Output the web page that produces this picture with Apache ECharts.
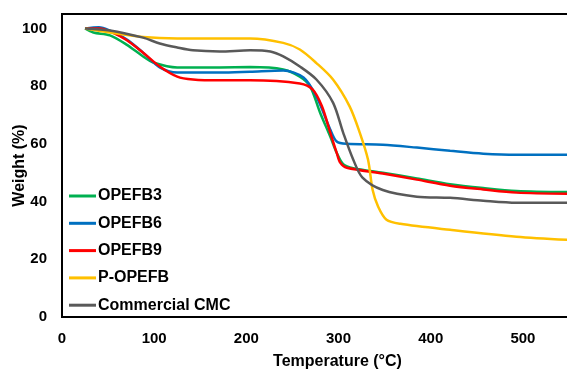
<!DOCTYPE html>
<html>
<head>
<meta charset="utf-8">
<script src="https://cdn.jsdelivr.net/npm/echarts@6/dist/echarts.min.js"></script>
<style>
  html, body { margin: 0; padding: 0; background: #fff; }
  #chart { width: 567px; height: 369px; }
</style>
</head>
<body>
<div id="chart"></div>
<script>
// temperatures (°C) and weights (%)
const opefb3T = [25, 34, 52, 70, 88, 99, 125, 171, 204, 240, 258, 269, 280, 291, 298, 305, 316, 348, 385, 421, 457, 493, 550];
const opefb3W = [100, 98.6, 97.6, 94.4, 90.3, 88.2, 86.5, 86.5, 86.6, 85.8, 83.3, 80, 70.8, 62.5, 56.9, 53, 51.6, 50, 48, 46, 44.7, 43.7, 43.3];

const opefb6T = [25, 40, 52, 70, 88, 106, 125, 171, 204, 240, 262, 276, 291, 298, 309, 348, 385, 421, 457, 493, 550];
const opefb6W = [100, 100.4, 99.2, 96.2, 91.6, 86.5, 84.7, 84.7, 85, 85.4, 83, 76.4, 65, 60.8, 60, 59.7, 58.7, 57.6, 56.6, 56.2, 56.2];

const opefb9T = [25, 41, 52, 70, 88, 106, 125, 142, 171, 204, 258, 272, 282, 291, 298, 302, 309, 348, 385, 421, 457, 493, 550];
const opefb9W = [100, 100, 99, 96, 91.6, 86.8, 83.3, 82.3, 82, 82, 80.9, 78.8, 73, 63.9, 56.9, 53.4, 51.7, 49.7, 47.6, 45.5, 44.2, 43.1, 42.7];

const pOpefbT = [25, 52, 88, 125, 171, 204, 240, 258, 276, 294, 312, 323, 332, 337, 343, 352, 367, 421, 493, 550];
const pOpefbW = [100, 98.6, 97, 96.5, 96.5, 96.5, 95, 92.7, 88, 82.3, 73, 63.9, 54.5, 44, 38.2, 33.7, 32.3, 30.2, 27.8, 26.7];

const cmcT = [25, 52, 88, 106, 125, 142, 171, 204, 226, 240, 258, 276, 294, 305, 316, 326, 348, 385, 421, 457, 493, 550];
const cmcW = [100, 99.3, 96.8, 94.8, 93.4, 92.4, 92, 92.4, 92, 90.3, 86.8, 82.3, 74.3, 63.9, 54.5, 48.3, 44, 41.7, 41.3, 40.3, 39.6, 39.6];

const seriesNames = ["OPEFB3", "OPEFB6", "OPEFB9", "P-OPEFB", "Commercial CMC"];
const seriesColors = ["#00B050", "#0070C0", "#FF0000", "#FFC000", "#595959"];
const seriesTemps = [opefb3T, opefb6T, opefb9T, pOpefbT, cmcT];
const seriesWeights = [opefb3W, opefb6W, opefb9W, pOpefbW, cmcW];

const font = "'Liberation Sans', Arial, sans-serif";
const chart = echarts.init(document.getElementById("chart"));

chart.setOption({
  animation: false,
  grid: {
    left: 62, right: -2, top: 14, bottom: 52,
    outerBoundsMode: "none",
    containLabel: false,
    show: true, borderColor: "#000", borderWidth: 2
  },
  legend: {
    orient: "vertical",
    left: 69, top: 188,
    padding: 0,
    itemWidth: 27, itemHeight: 3, itemGap: 11.3,
    icon: "rect",
    data: seriesNames,
    textStyle: {
      fontFamily: font, fontWeight: "bold", fontSize: 16,
      color: "#000", lineHeight: 16, padding: [0, 0, 0, -3]
    }
  },
  xAxis: {
    type: "value",
    min: 0, max: 550, interval: 100,
    name: "Temperature (°C)",
    nameLocation: "middle",
    nameGap: 37,
    nameTextStyle: {
      fontFamily: font, fontWeight: "bold", fontSize: 16, color: "#000",
      padding: [0, 0, 0, 44]
    },
    axisLine: { lineStyle: { color: "#000", width: 2 } },
    axisTick: { show: false },
    splitLine: { show: false },
    axisLabel: {
      margin: 14,
      fontFamily: font, fontWeight: "bold", fontSize: 15, color: "#000",
      formatter: (v) => (v % 100 === 0 ? String(v) : "")
    }
  },
  yAxis: {
    type: "value",
    min: 0, max: 105, interval: 20,
    name: "Weight (%)",
    nameLocation: "middle",
    nameGap: 34,
    nameMoveOverlap: false,
    nameTextStyle: {
      fontFamily: font, fontWeight: "bold", fontSize: 16, color: "#000"
    },
    axisLine: { show: true, lineStyle: { color: "#000", width: 2 } },
    axisTick: { show: false },
    splitLine: { show: false },
    axisLabel: {
      margin: 15,
      fontFamily: font, fontWeight: "bold", fontSize: 15, color: "#000",
      formatter: (v) => (v % 20 === 0 ? String(v) : "")
    }
  },
  series: seriesNames.map((name, i) => ({
    name: name,
    type: "line",
    data: seriesTemps[i].map((t, j) => [t, seriesWeights[i][j]]),
    smooth: 0.3,
    symbol: "none",
    color: seriesColors[i],
    lineStyle: { width: 2.5, color: seriesColors[i] }
  }))
});
</script>
</body>
</html>
